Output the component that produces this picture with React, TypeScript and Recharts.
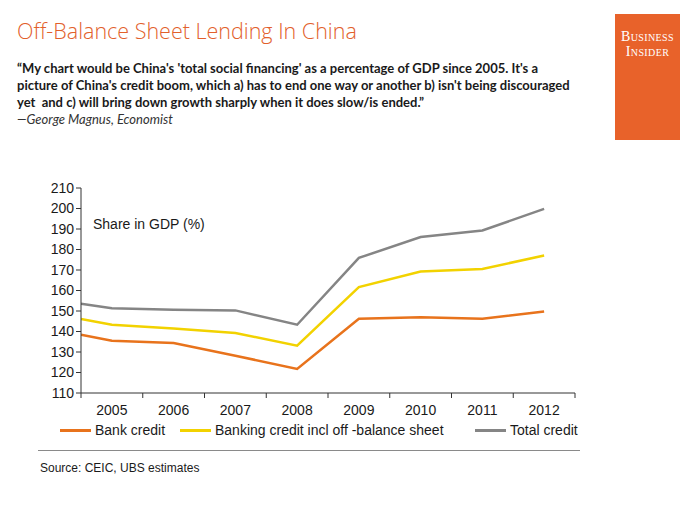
import { LineChart, Line, XAxis, YAxis, Legend } from "recharts";

const periods = [2004.5, 2005, 2006, 2007, 2008, 2009, 2010, 2011, 2012];
const bankCredit = [138.4, 135.5, 134.4, 128.2, 121.7, 146.2, 146.9, 146.2, 149.8];
const bankingInclOffBalance = [146.1, 143.3, 141.5, 139.3, 133.1, 161.7, 169.3, 170.5, 177.1];
const totalCredit = [153.6, 151.4, 150.6, 150.3, 143.3, 175.9, 186.1, 189.3, 199.8];

const yearTicks = [2004.5, 2005.5, 2006.5, 2007.5, 2008.5, 2009.5, 2010.5, 2011.5, 2012.5];
const yTicks = [110, 120, 130, 140, 150, 160, 170, 180, 190, 200, 210];

const seriesInfo = [
  { key: "bank", name: "Bank credit", color: "#E8731C" },
  { key: "offBalance", name: "Banking credit incl off -balance sheet", color: "#F2D200" },
  { key: "total", name: "Total credit", color: "#858585" },
];

const data = periods.map((p, i) => ({
  period: p,
  bank: bankCredit[i],
  offBalance: bankingInclOffBalance[i],
  total: totalCredit[i],
}));

const W = 700;
const H = 525;
const margin = { top: 188, right: 125, bottom: 102, left: 21 };
const Y_AXIS_W = 60;
const PLOT_W = W - margin.left - Y_AXIS_W - margin.right;
const HALF_STEP = PLOT_W / (yearTicks.length - 1) / 2;

const chartFont = "'Liberation Sans', Arial, sans-serif";

const YearTick = (props: any) => {
  const { x, y, payload } = props;
  const year = payload.value + 0.5;
  if (year > 2012) return null;
  return (
    <text
      x={x + HALF_STEP}
      y={y + 15}
      textAnchor="middle"
      fontSize={14}
      fontFamily={chartFont}
      fill="#1a1a1a"
    >
      {year}
    </text>
  );
};

const LegendRow = () => (
  <div
    style={{
      position: "absolute",
      left: 0,
      top: 422,
      width: W,
      height: 18,
      fontFamily: chartFont,
      fontSize: 14,
      color: "#1a1a1a",
    }}
  >
    {seriesInfo.map((s, i) => {
      const lefts = [60, 180, 475];
      return (
        <div
          key={s.key}
          style={{ position: "absolute", left: lefts[i], top: 0, display: "flex", alignItems: "center", whiteSpace: "nowrap" }}
        >
          <span style={{ display: "inline-block", width: 31, height: 3, background: s.color, marginRight: 4 }} />
          <span>{s.name}</span>
        </div>
      );
    })}
  </div>
);

export default function App() {
  return (
    <div
      style={{
        position: "absolute",
        left: 0,
        top: 0,
        width: W,
        height: H,
        background: "#fff",
        overflow: "hidden",
      }}
    >
      <div
        style={{
          position: "absolute",
          left: 17,
          top: 16,
          fontFamily: "'Open Sans', sans-serif",
          fontWeight: 300,
          fontSize: 21.5,
          color: "#E2602B",
          whiteSpace: "nowrap",
        }}
      >
        Off-Balance Sheet Lending In China
      </div>
      <div
        style={{
          position: "absolute",
          left: 17,
          top: 60,
          width: 590,
          fontFamily: "Lato, sans-serif",
          fontWeight: 700,
          fontSize: 13,
          lineHeight: "17px",
          color: "#1a1a1a",
        }}
      >
        <div style={{ whiteSpace: "nowrap" }}>
          “My chart would be China's 'total social financing' as a percentage of GDP since 2005. It's a
        </div>
        <div style={{ whiteSpace: "nowrap" }}>
          picture of China's credit boom, which a) has to end one way or another b) isn't being discouraged
        </div>
        <div style={{ whiteSpace: "pre" }}>yet  and c) will bring down growth sharply when it does slow/is ended.”</div>
      </div>
      <div
        style={{
          position: "absolute",
          left: 17,
          top: 111,
          fontFamily: "Lato, sans-serif",
          fontStyle: "italic",
          fontSize: 13,
          color: "#333",
          whiteSpace: "nowrap",
        }}
      >
        —George Magnus, Economist
      </div>
      <div
        style={{
          position: "absolute",
          left: 615,
          top: 14,
          width: 65,
          height: 126,
          background: "#E8622A",
          color: "#fff",
          fontFamily: "'Liberation Serif', 'DejaVu Serif', serif",
          fontVariant: "small-caps",
          fontSize: 14,
          lineHeight: "15px",
          letterSpacing: 0.4,
          textAlign: "center",
          paddingTop: 15,
          boxSizing: "border-box",
        }}
      >
        <div>Business</div>
        <div>Insider</div>
      </div>

      <div style={{ position: "absolute", left: 0, top: 0 }}>
        <LineChart width={W} height={H} data={data} margin={margin}>
          <XAxis
            dataKey="period"
            type="number"
            domain={[2004.5, 2012.5]}
            ticks={yearTicks}
            interval={0}
            height={30}
            stroke="#333"
            tickSize={5}
            tick={<YearTick />}
            allowDataOverflow
          />
          <YAxis
            type="number"
            domain={[110, 210]}
            ticks={yTicks}
            interval={0}
            width={Y_AXIS_W}
            stroke="#333"
            tickSize={5}
            tick={{ fontSize: 14, fill: "#1a1a1a", fontFamily: chartFont }}
          />
          {seriesInfo.map((s) => (
            <Line
              key={s.key}
              dataKey={s.key}
              name={s.name}
              stroke={s.color}
              strokeWidth={2.5}
              dot={false}
              type="linear"
              isAnimationActive={false}
            />
          ))}
          <Legend content={() => null} />
        </LineChart>
      </div>

      <div
        style={{
          position: "absolute",
          left: 93,
          top: 216,
          fontFamily: chartFont,
          fontSize: 14,
          color: "#1a1a1a",
          whiteSpace: "nowrap",
        }}
      >
        Share in GDP (%)
      </div>

      <LegendRow />

      <div style={{ position: "absolute", left: 38, top: 450, width: 542, height: 1, background: "#8a8a8a" }} />
      <div
        style={{
          position: "absolute",
          left: 40,
          top: 461,
          fontFamily: chartFont,
          fontSize: 12,
          color: "#1a1a1a",
          whiteSpace: "nowrap",
        }}
      >
        Source: CEIC, UBS estimates
      </div>
    </div>
  );
}
